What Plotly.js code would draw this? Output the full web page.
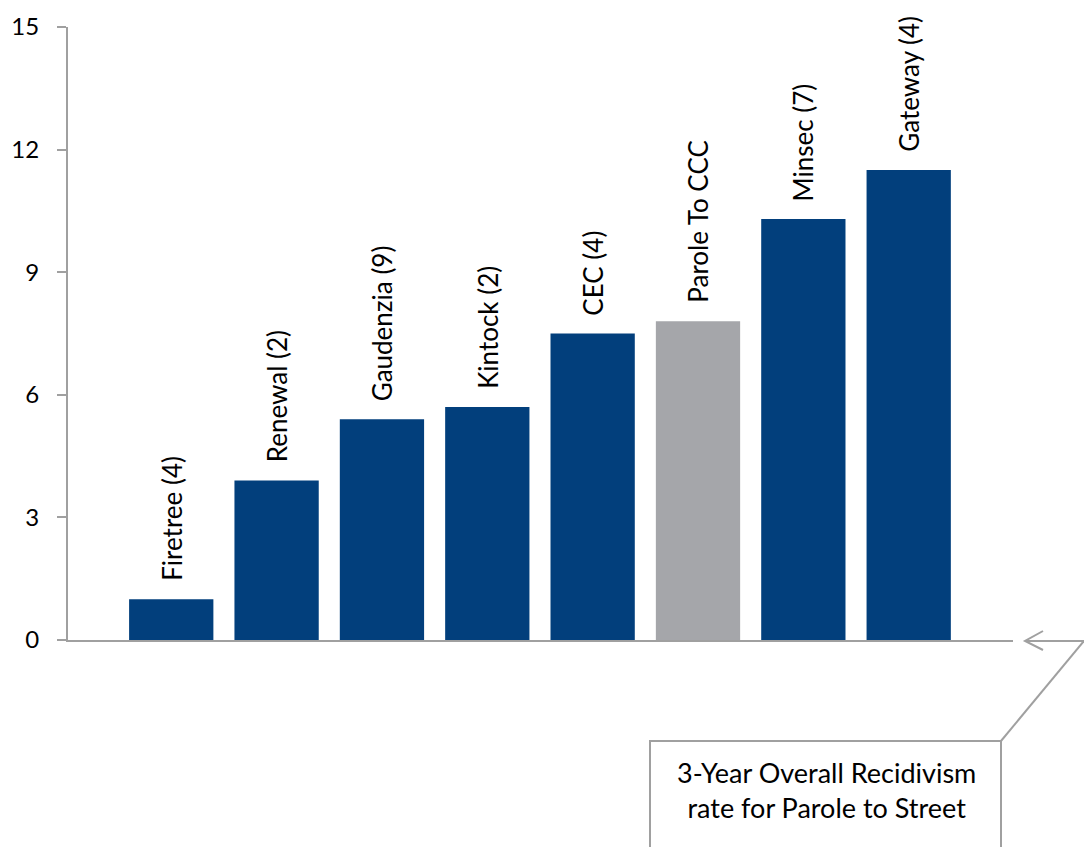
<!DOCTYPE html>
<html>
<head>
<meta charset="utf-8">
<script src="https://cdn.plot.ly/plotly-3.0.1.min.js"></script>
<style>html,body{margin:0;padding:0;background:#fff;}#chart{width:1084px;height:847px;}</style>
</head>
<body>
<div id="chart"></div>
<script>
const categories = ["Firetree (4)", "Renewal (2)", "Gaudenzia (9)", "Kintock (2)", "CEC (4)", "Parole To CCC", "Minsec (7)", "Gateway (4)"];
const values = [1.0, 3.9, 5.4, 5.7, 7.5, 7.8, 10.3, 11.5];
const barColors = ["#023f7c", "#023f7c", "#023f7c", "#023f7c", "#023f7c", "#a5a6aa", "#023f7c", "#023f7c"];
const yTicks = [0, 3, 6, 9, 12, 15];
const noteText = "3-Year Overall Recidivism<br>rate for Parole to Street";

const FONT = "Lato, 'Open Sans', sans-serif";
const AXIS = "#a0a0a0";

const trace = {
  type: "bar",
  x: categories,
  y: values,
  marker: {color: barColors},
  hoverinfo: "skip"
};

const labelAnns = categories.map((c, i) => ({
  x: c, y: values[i], xref: "x", yref: "y",
  text: c, textangle: -90, showarrow: false,
  xanchor: "center", yanchor: "bottom", yshift: 16,
  font: {family: FONT, size: 26, color: "#000"}
}));

const W = 945, H = 613, L = 68, T = 27;
function px(x) { return (x - L) / W; }
function py(y) { return (T + H - y) / H; }

const layout = {
  width: 1084, height: 847,
  margin: {l: 68, r: 71, t: 27, b: 207},
  paper_bgcolor: "#fff", plot_bgcolor: "#fff",
  showlegend: false,
  bargap: 0.2,
  font: {family: FONT, color: "#000"},
  xaxis: {
    type: "category", range: [-0.98, 7.99],
    showticklabels: false, ticks: "", showgrid: false, zeroline: false,
    showline: true, linecolor: AXIS, linewidth: 2
  },
  yaxis: {
    range: [0, 15], tickvals: yTicks, ticktext: yTicks.map(String),
    showgrid: false, zeroline: false,
    showline: true, linecolor: AXIS, linewidth: 2,
    ticks: "outside", ticklen: 9, tickcolor: AXIS, tickwidth: 2,
    tickfont: {family: FONT, size: 24, color: "#000"}, ticklabelstandoff: 13
  },
  shapes: [
    {type: "rect", xref: "paper", yref: "paper", x0: px(650), x1: px(1001), y0: py(741), y1: py(880),
     line: {color: AXIS, width: 2}, fillcolor: "rgba(0,0,0,0)", layer: "above"},
    {type: "line", xref: "paper", yref: "paper", x0: px(1001), y0: py(741), x1: px(1084), y1: py(641),
     line: {color: AXIS, width: 2}},
    {type: "line", xref: "paper", yref: "paper", x0: px(1084), y0: py(641), x1: px(1025), y1: py(641),
     line: {color: AXIS, width: 2}},
    {type: "path", xref: "paper", yref: "paper",
     path: "M " + px(1043) + "," + py(631) + " L " + px(1025) + "," + py(641) + " L " + px(1043) + "," + py(650),
     line: {color: AXIS, width: 2}}
  ],
  annotations: labelAnns.concat([{
    xref: "paper", yref: "paper", x: px(826), y: py(790), xanchor: "center", yanchor: "middle",
    text: noteText, showarrow: false, align: "center",
    font: {family: FONT, size: 27, color: "#000"}
  }])
};

Plotly.newPlot("chart", [trace], layout, {displayModeBar: false, staticPlot: true});
</script>
</body>
</html>
